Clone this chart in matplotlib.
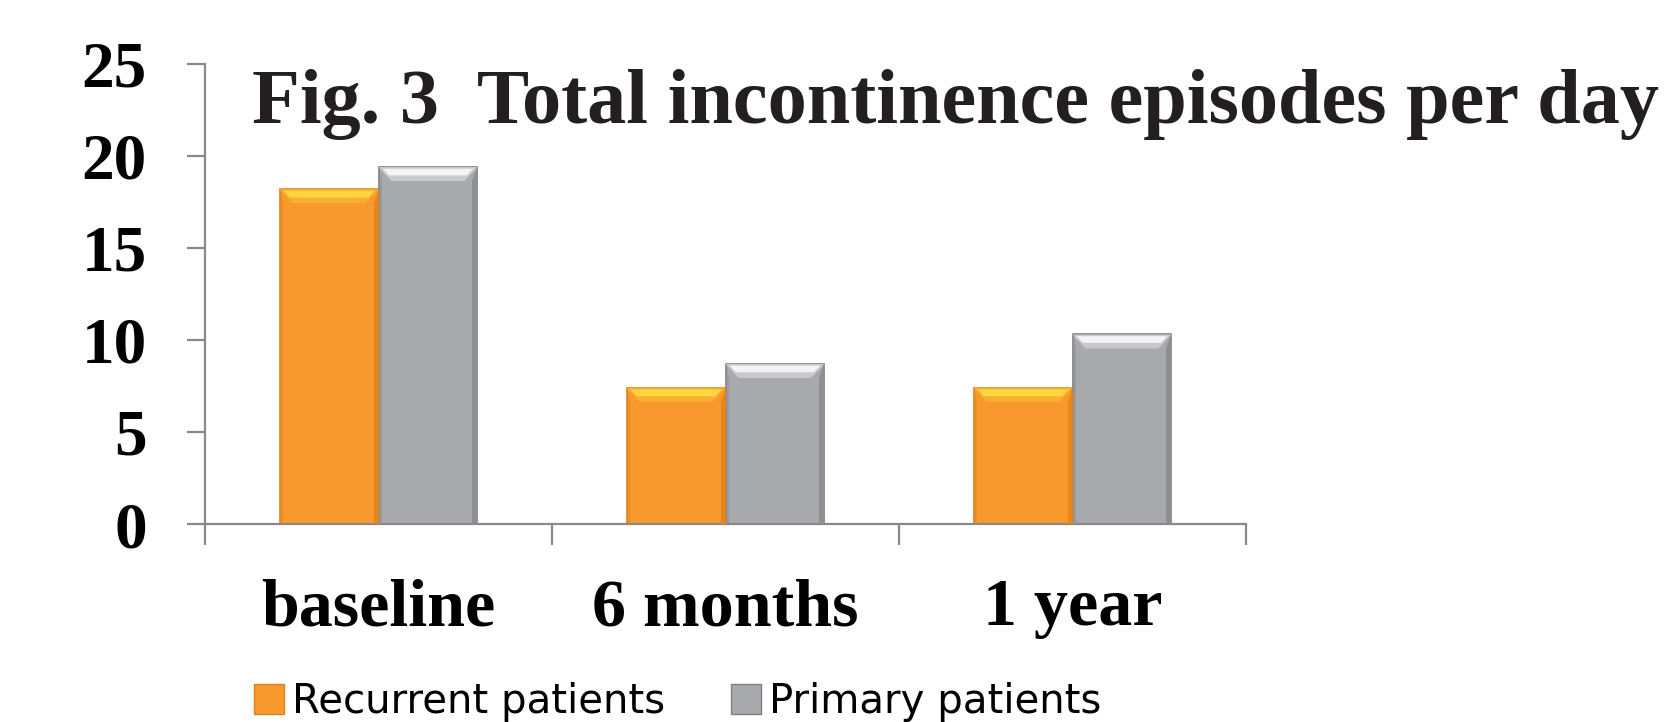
import matplotlib
matplotlib.use("Agg")
import matplotlib.pyplot as plt
from matplotlib.patches import Polygon, Patch

categories = ["baseline", "6 months", "1 year"]
recurrent = [18.2, 7.4, 7.4]
primary = [19.4, 8.7, 10.3]
series_names = ["Recurrent patients", "Primary patients"]
yticks = [0, 5, 10, 15, 20, 25]
title = "Fig. 3  Total incontinence episodes per day"

W, H = 1670, 722
fig = plt.figure(figsize=(W / 100, H / 100), dpi=100)
ax = fig.add_axes([205 / W, 1 - 524 / H, (1246 - 205) / W, (524 - 64) / H])

orange = "#F7992C"
gray = "#A8A9AD"
styles = [
    dict(face=orange, edge="#E0821C", top="#FFD640", top2="#F9B030", side="#E8851A"),
    dict(face=gray, edge="#7E7F83", top="#F4F4F5", top2="#C8C9CC", side="#8E8F93"),
]

bw = 0.285
xs = list(range(len(categories)))
bars_r = ax.bar([x - bw / 2 for x in xs], recurrent, width=bw, color=orange,
                edgecolor=styles[0]["edge"], linewidth=1.2, zorder=2)
bars_p = ax.bar([x + bw / 2 for x in xs], primary, width=bw, color=gray,
                edgecolor=styles[1]["edge"], linewidth=1.2, zorder=2)

ax.set_xlim(-0.5, 2.5)
ax.set_ylim(0, 25)

# bevel decorations derived from bar geometry
fig.canvas.draw()
px_per_x = ax.transData.transform((1, 0))[0] - ax.transData.transform((0, 0))[0]
px_per_y = ax.transData.transform((0, 1))[1] - ax.transData.transform((0, 0))[1]
t = 14 / px_per_y
d = 13 / px_per_x
s = 5 / px_per_x
for bars, st in ((bars_r, styles[0]), (bars_p, styles[1])):
    for b in bars:
        x0 = b.get_x(); x1 = x0 + b.get_width(); top = b.get_height()
        ax.add_patch(Polygon([(x1, top), (x1, 0), (x1 - s, 0), (x1 - s, top - t)],
                             closed=True, facecolor=st["side"], edgecolor="none", zorder=3))
        ax.add_patch(Polygon([(x0, top), (x0, 0), (x0 + s * 0.6, 0), (x0 + s * 0.6, top - t)],
                             closed=True, facecolor=st["side"], edgecolor="none", alpha=0.5, zorder=3))
        ax.add_patch(Polygon([(x0, top), (x1, top), (x1 - d, top - t), (x0 + d, top - t)],
                             closed=True, facecolor=st["top2"], edgecolor="none", zorder=3))
        ax.add_patch(Polygon([(x0 + d * 0.3, top - t * 0.12), (x1 - d * 0.3, top - t * 0.12),
                              (x1 - d * 0.8, top - t * 0.6), (x0 + d * 0.8, top - t * 0.6)],
                             closed=True, facecolor=st["top"], edgecolor="none", zorder=3))

axis_col = "#898989"
for side in ("top", "right"):
    ax.spines[side].set_visible(False)
for side in ("left", "bottom"):
    ax.spines[side].set_color(axis_col)
    ax.spines[side].set_linewidth(1.6)

ax.set_yticks(yticks)
ax.set_yticklabels([str(v) for v in yticks])
ax.tick_params(axis="y", direction="out", length=13, width=1.6, color=axis_col,
               pad=29, labelsize=47)
for lab in ax.get_yticklabels():
    lab.set_fontfamily("Liberation Serif")
    lab.set_fontweight("bold")

ax.set_xticks([-0.5, 0.5, 1.5, 2.5])
ax.set_xticklabels([])
ax.tick_params(axis="x", which="major", direction="out", length=15, width=1.6, color=axis_col)
ax.set_xticks(xs, minor=True)
ax.set_xticklabels(categories, minor=True)
ax.tick_params(axis="x", which="minor", length=0, pad=39, labelsize=49)
for lab in ax.get_xticklabels(minor=True):
    lab.set_fontfamily("Liberation Serif")
    lab.set_fontweight("bold")

tt = fig.text(252 / W, 1 - 123 / H, title, fontfamily="Liberation Serif", fontweight="bold",
              fontsize=55, color="#231F20", va="baseline", ha="left")
fig.canvas.draw()
r = fig.canvas.get_renderer()
wpx = tt.get_window_extent(r).width
tt.set_fontsize(55 * (1406 / wpx))

handles = [Patch(facecolor=styles[0]["face"], edgecolor=styles[0]["edge"]),
           Patch(facecolor=styles[1]["face"], edgecolor=styles[1]["edge"])]
fig.legend(handles, series_names, loc="center left", bbox_to_anchor=(254 / W, 1 - 702 / H),
           ncol=2, frameon=False, borderpad=0, borderaxespad=0, handlelength=0.75,
           handleheight=0.75, handletextpad=0.2, columnspacing=1.62,
           prop={"family": "DejaVu Sans", "size": 29})

fig.savefig("out.png", dpi=100)
